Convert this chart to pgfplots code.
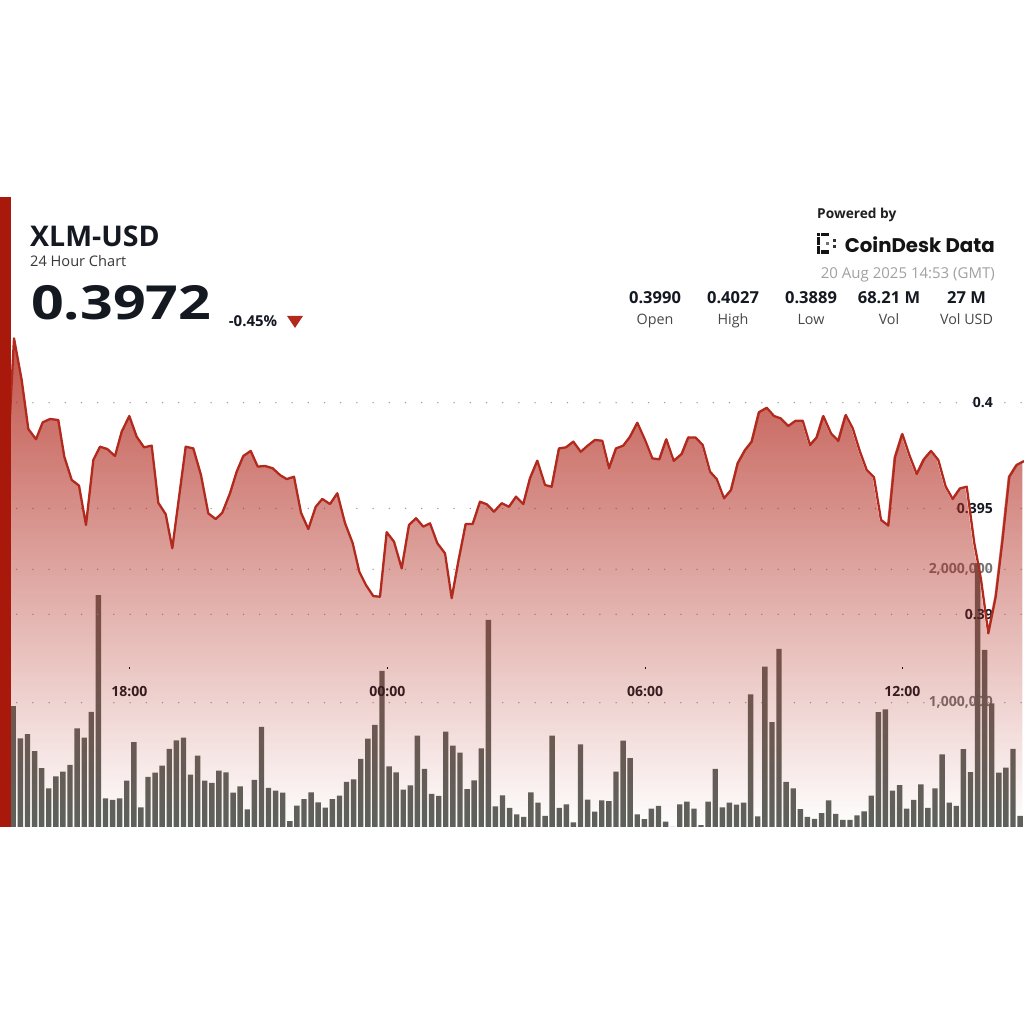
\documentclass[border=0pt]{standalone}
\usepackage{pgfplots}
\pgfplotsset{compat=1.18}
\usepackage{pgfplotstable}
\usepackage{graphicx}
\usepackage{fontspec}
\setmainfont{Open Sans}
\newfontfamily\poppins{Poppins}
\usetikzlibrary{fadings}
\definecolor{xred}{HTML}{B22A1E}
\definecolor{barred}{HTML}{A8190C}
\definecolor{volgray}{HTML}{5E625C}
\definecolor{ink}{HTML}{141821}

\pgfplotstableread{
i v
1 975000
2 733000
3 765000
4 636000
5 510000
6 358000
7 448000
8 483000
9 533000
10 808000
11 738000
12 932000
13 1807000
14 283000
15 271000
16 283000
17 415000
18 705000
19 216000
20 443000
21 475000
22 528000
23 653000
24 718000
25 738000
26 460000
27 603000
28 415000
29 398000
30 490000
31 478000
32 325000
33 373000
34 201000
35 421000
36 818000
37 361000
38 340000
39 325000
40 113000
41 228000
42 278000
43 328000
44 253000
45 213000
46 278000
47 303000
48 406000
49 426000
50 578000
51 730000
52 833000
53 1238000
54 523000
55 478000
56 348000
57 381000
58 753000
59 503000
60 316000
61 301000
62 783000
63 678000
64 625000
65 353000
66 418000
67 658000
68 1620000
69 223000
70 306000
71 211000
72 163000
73 145000
74 328000
75 250000
76 151000
77 753000
78 211000
79 238000
80 103000
81 688000
82 273000
83 183000
84 268000
85 263000
86 483000
87 715000
88 585000
89 163000
90 128000
91 205000
92 226000
93 108000
94 40000
95 238000
96 258000
97 205000
98 83000
99 258000
100 503000
101 216000
102 250000
103 235000
104 250000
105 1063000
106 148000
107 1270000
108 855000
109 1403000
110 406000
111 358000
112 203000
113 145000
114 130000
115 173000
116 268000
117 166000
118 121000
119 121000
120 156000
121 186000
122 303000
123 930000
124 950000
125 340000
126 383000
127 205000
128 271000
129 388000
130 211000
131 358000
132 613000
133 250000
134 226000
135 651000
136 480000
137 2047000
138 1395000
139 995000
140 475000
141 513000
142 653000
143 151000
}\voltable

\pgfplotstableread{
x p
7 0.37995
7 0.39663
14 0.40304
21.7 0.40107
28.3 0.39876
36 0.39827
42.7 0.39907
50 0.39923
58.3 0.39918
64.3 0.39745
71.7 0.39635
79 0.39608
86 0.39422
93.3 0.39729
100 0.39792
107.3 0.39781
115 0.39748
121.7 0.39863
129.3 0.39937
136.7 0.39839
144 0.39789
151.7 0.39797
158.3 0.39527
165.7 0.39473
172.3 0.39312
185.7 0.39792
193.3 0.39784
201 0.39658
208.3 0.39477
215.7 0.39450
222.3 0.39480
230 0.39572
236.7 0.39674
243.3 0.39748
250.7 0.39772
257.7 0.39698
265 0.39701
272.7 0.39690
280 0.39658
286.7 0.39639
294 0.39650
301 0.39480
308.3 0.39403
315.7 0.39508
322.3 0.39545
330 0.39521
337.3 0.39572
345 0.39431
352.7 0.39336
359.3 0.39201
366 0.39138
373.3 0.39086
380 0.39083
386.7 0.39388
394 0.39343
401.7 0.39217
409 0.39422
416 0.39454
423.3 0.39414
430 0.39430
437.3 0.39336
445 0.39288
451.7 0.39076
458.3 0.39249
465.7 0.39427
472.7 0.39427
480 0.39532
486.7 0.39520
494 0.39485
501.7 0.39525
509 0.39508
516 0.39556
523.3 0.39521
530 0.39643
537.3 0.39726
545 0.39611
551.7 0.39603
559 0.39784
566 0.39789
573.3 0.39816
580.7 0.39768
587.7 0.39797
595 0.39824
602.3 0.39820
609 0.39690
616 0.39784
623.3 0.39797
630 0.39839
637.3 0.39905
645 0.39824
652.3 0.39737
659.3 0.39732
666.3 0.39827
673.7 0.39725
681.7 0.39758
688.3 0.39836
695.7 0.39835
702.7 0.39800
710 0.39674
716.7 0.39639
724 0.39548
731 0.39587
737.7 0.39714
745 0.39776
751.7 0.39816
759 0.39955
766.7 0.39976
774 0.39937
780.7 0.39926
788.3 0.39890
795.7 0.39915
802.7 0.39915
810 0.39800
816.7 0.39836
823.3 0.39937
831 0.39855
838.3 0.39819
845.7 0.39942
852.7 0.39879
860 0.39768
866.7 0.39682
874 0.39647
881 0.39446
888.3 0.39419
895 0.39742
902.3 0.39852
909.3 0.39753
916.7 0.39663
924 0.39733
931 0.39772
938.3 0.39729
945.7 0.39603
952.7 0.39545
960 0.39595
966.7 0.39603
974.3 0.39336
981 0.39165
988.3 0.38910
995.7 0.39083
1002.3 0.39343
1009.3 0.39650
1016.7 0.39706
1024 0.39724
1024 0.37995
}\pricetable

\pgfplotsset{
  base/.style={at={(11pt,197pt)}, anchor=south west, scale only axis,
    width=1013pt, height=630pt, axis line style={draw=none},
    major tick length=0pt, clip=true},
  dotgrid/.style={draw=gray!80, line width=1.5pt, line cap=round,
    dash pattern=on 0pt off 16.2pt, dash phase=10.5pt},
}

\begin{document}
\begin{tikzpicture}[x=1pt,y=1pt]
\fill[white] (0,0) rectangle (1024,1024);

% volume grid and labels (under everything)
\begin{axis}[base, xmin=0.676, xmax=143.55, ymin=68200, ymax=4790800,
  scaled y ticks=false,
  xtick=\empty, ytick={1000000,2000000}, yticklabels={{1,000,000},{2,000,000}},
  yticklabel pos=right,
  yticklabel style={anchor=east, xshift=-31pt, inner sep=0pt,
    font=\bfseries\fontsize{14}{14}\selectfont, text=black!55},
  ymajorgrids, grid style=dotgrid]
\addplot[draw=none, forget plot] coordinates {(1,100000)};
\end{axis}

% volume bars
\begin{axis}[base, xmin=0.676, xmax=143.55, ymin=68200, ymax=4790800,
  scaled y ticks=false, xtick=\empty, ytick=\empty]
\addplot[ybar, bar width=0.76, fill=volgray, draw=none] table[x=i, y=v] {\voltable};
\end{axis}

% price
\begin{axis}[base, xmin=11, xmax=1024, ymin=0.379948, ymax=0.409721,
  xtick={129.3,387.3,645,902.3}, xticklabels={18:00,00:00,06:00,12:00},
  xtick pos=left, major tick length=2pt,
  xtick style={draw=black, line width=1pt, yshift=158pt},
  xticklabel style={anchor=center, yshift=135.3pt,
    font=\bfseries\fontsize{14}{14}\selectfont, text=ink},
  ytick={0.39,0.395,0.4}, yticklabels={0.39,0.395,0.4},
  ytick style={draw=none},
  yticklabel pos=right,
  yticklabel style={anchor=east, xshift=-31pt, inner sep=0pt,
    font=\bfseries\fontsize{14}{14}\selectfont, text=ink},
  ymajorgrids, grid style=dotgrid]
\addplot[draw=none, fill=xred, fill opacity=0.8, path fading=south] table[x=x, y=p] {\pricetable};
\addplot[xred, line width=2.3pt, line join=round, unbounded coords=discard,
  y filter/.expression={y<0.38 ? nan : y}] table[x=x, y=p] {\pricetable};
\end{axis}

\fill[barred] (0,197) rectangle (11,827);

% header left
\node[anchor=base west, inner sep=0pt, text=ink] at (30,777.3) {\fontsize{28.5}{31}\selectfont\bfseries XLM-USD};
\node[anchor=base west, inner sep=0pt, text=black!78] at (30,757.3) {\fontsize{14.6}{16}\selectfont 24 Hour Chart};
\node[anchor=base west, inner sep=0pt, text=ink] at (31,704) {\scalebox{1.22}[1]{\fontsize{47}{50}\selectfont\bfseries 0.3972}};
\node[anchor=base west, inner sep=0pt, text=ink] at (228.7,697.3) {\fontsize{15}{17}\selectfont\bfseries -0.45\%};
\fill[xred] (287,708) -- (303,708) -- (295,696) -- cycle;

% header right
\node[anchor=base west, inner sep=0pt, text=black!88] at (817,805.3) {\fontsize{13.7}{15}\selectfont\bfseries Powered by};
\foreach \yy in {770,774.4,778.8,783.2,787.6} {\fill[black!92] (816.5,\yy) rectangle ++(3.8,3.8);}
\foreach \xx in {821,825.2} {\fill[black!92] (\xx,787.6) rectangle ++(3.8,3.8); \fill[black!92] (\xx,770) rectangle ++(3.8,3.8);}
\fill[black!55] (826,779.3) rectangle ++(2.8,2.8);
\fill[black!80] (833,782) rectangle ++(3.4,3.4);
\fill[black!80] (833,775.5) rectangle ++(3.4,3.4);
\node[anchor=base east, inner sep=0pt, text=black!92] at (995,771.3) {\resizebox{150pt}{!}{\poppins\bfseries CoinDesk Data}};
\node[anchor=base east, inner sep=0pt, text=black!37] at (995,745.7) {\fontsize{15}{17}\selectfont 20 Aug 2025 14:53 (GMT)};
\foreach \xx/\vv/\ll in {655/0.3990/Open, 733/0.4027/High, 811/0.3889/Low, 889/68.21 M/Vol, 966.5/27 M/Vol USD} {
  \node[anchor=base, inner sep=0pt, text=ink] at (\xx,720.7) {\fontsize{16.5}{18}\selectfont\bfseries \vv};
  \node[anchor=base, inner sep=0pt, text=black!72] at (\xx,699) {\fontsize{14.3}{16}\selectfont \ll};
}
\pgfresetboundingbox
\useasboundingbox (0,0) rectangle (1024,1024);
\end{tikzpicture}
\end{document}
